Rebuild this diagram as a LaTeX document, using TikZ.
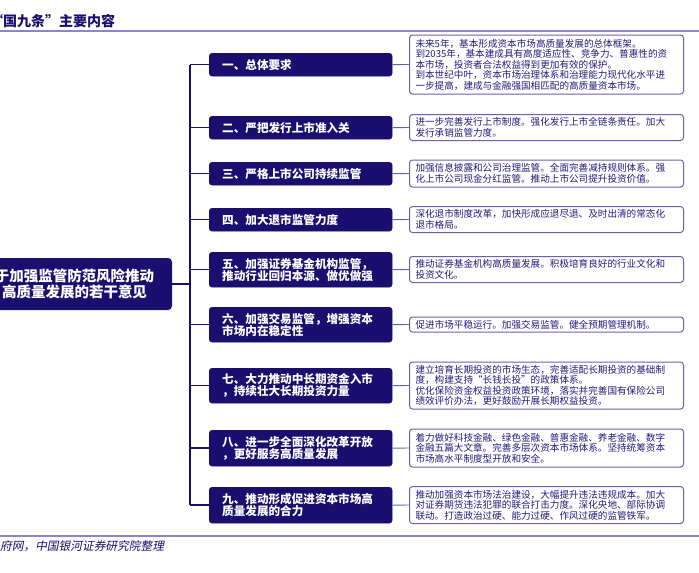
\documentclass[tikz,border=0pt]{standalone}
\usepackage{fontspec}
\setmainfont{Noto Sans CJK SC}
\newfontfamily\srcfont{Noto Sans CJK SC}[FakeSlant=0.2]
\definecolor{navy}{HTML}{1A0F6E}
\definecolor{purp}{HTML}{6A5FB5}
\definecolor{rtext}{HTML}{231C7A}
\definecolor{lav}{HTML}{8A84C8}
\begin{document}
\begin{tikzpicture}[x=1pt,y=-1pt,
  mid/.style={draw=navy, fill=navy, rounded corners=3pt, text=white,
    font=\fontsize{11.6}{12.2}\selectfont\bfseries, anchor=north west,
    text width=157pt, inner xsep=13pt, inner ysep=0pt, align=left},
  rbox/.style={draw=purp, line width=1pt, fill=white, rounded corners=3pt, text=rtext,
    font=\fontsize{9.6}{10.5}\selectfont, anchor=west,
    text width=262pt, inner xsep=6pt, inner ysep=0pt, align=left},
  root/.style={fill=navy, rounded corners=4pt, text=white,
    font=\fontsize{14.5}{16}\selectfont\bfseries, align=center,
    minimum width=195pt, minimum height=52pt, inner sep=0pt},
  tree/.style={draw=navy, line width=1.5pt},
  rconn/.style={draw=purp, line width=0.9pt},
  rule/.style={draw=lav, line width=1.5pt}
]
\fill[white] (0,0) rectangle (699,573);
\useasboundingbox (0,0) rectangle (699,573);

% header
\node[anchor=west, inner sep=0pt, font=\fontsize{14}{14}\selectfont\bfseries, text=navy] (hdr) at (-11,21.5) {“国九条”主要内容};
\draw[rule] (0,31) -- (699,31);

% root
\node[root] (L) at (74.5,284) {于加强监管防范风险推动\\高质量发展的若干意见};

% middle boxes
\node[mid, minimum height=23pt] (m1) at (209,53) {一、总体要求};
\node[mid, minimum height=23pt] (m2) at (209,116) {二、严把发行上市准入关};
\node[mid, minimum height=23pt] (m3) at (209,162) {三、严格上市公司持续监管};
\node[mid, minimum height=23pt] (m4) at (209,208) {四、加大退市监管力度};
\node[mid, minimum height=35pt] (m5) at (209,252) {五、加强证券基金机构监管，\\推动行业回归本源、做优做强};
\node[mid, minimum height=35pt] (m6) at (209,307) {六、加强交易监管，增强资本\\市场内在稳定性};
\node[mid, minimum height=35pt] (m7) at (209,368) {七、大力推动中长期资金入市\\，持续壮大长期投资力量};
\node[mid, minimum height=36pt] (m8) at (209,430) {八、进一步全面深化改革开放\\，更好服务高质量发展};
\node[mid, minimum height=36pt] (m9) at (209,487) {九、推动形成促进资本市场高\\质量发展的合力};

% right boxes
\node[rbox, minimum height=59pt] (r1) at (409,64.5) {未来5年，基本形成资本市场高质量发展的总体框架。\\到2035年，基本建成具有高度适应性、竞争力、普惠性的资\\本市场，投资者合法权益得到更加有效的保护。\\到本世纪中叶，资本市场治理体系和治理能力现代化水平进\\一步提高，建成与金融强国相匹配的高质量资本市场。};
\node[rbox, minimum height=26pt] (r2) at (409,127.5) {进一步完善发行上市制度。强化发行上市全链条责任。加大\\发行承销监管力度。};
\node[rbox, minimum height=27pt] (r3) at (409,173.5) {加强信息披露和公司治理监管。全面完善减持规则体系。强\\化上市公司现金分红监管。推动上市公司提升投资价值。};
\node[rbox, minimum height=26pt] (r4) at (409,219.5) {深化退市制度改革，加快形成应退尽退、及时出清的常态化\\退市格局。};
\node[rbox, minimum height=26pt] (r5) at (409,269.5) {推动证券基金机构高质量发展。积极培育良好的行业文化和\\投资文化。};
\node[rbox, minimum height=15pt] (r6) at (409,324.5) {促进市场平稳运行。加强交易监管。健全预期管理机制。};
\node[rbox, minimum height=47pt] (r7) at (409,385.5) {建立培育长期投资的市场生态，完善适配长期投资的基础制\\度，构建支持“长钱长投”的政策体系。\\优化保险资金权益投资政策环境，落实并完善国有保险公司\\绩效评价办法，更好鼓励开展长期权益投资。};
\node[rbox, minimum height=38pt] (r8) at (409,448) {着力做好科技金融、绿色金融、普惠金融、养老金融、数字\\金融五篇大文章。完善多层次资本市场体系。坚持统筹资本\\市场高水平制度型开放和安全。};
\node[rbox, minimum height=37pt] (r9) at (409,505) {推动加强资本市场法治建设，大幅提升违法违规成本。加大\\对证券期货违法犯罪的联合打击力度。深化央地、部际协调\\联动。打造政治过硬、能力过硬、作风过硬的监管铁军。};

% tree
\coordinate (tT) at (190,64.5);
\coordinate (tB) at (190,505);
\draw[tree] (tT) -- (tB);
\draw[tree] (L.east) -- (L.east -| tT);
\foreach \i in {1,...,9} {
  \draw[tree] (m\i.west) -- (m\i.west -| tT);
  \draw[rconn] (m\i.east) -- (r\i.west);
}

% footer
\draw[rule] (0,536) -- (699,536);
\node[anchor=west, inner sep=0pt, font=\srcfont\fontsize{11.7}{12}\selectfont, text=navy] (src) at (0,546) {府网，中国银河证券研究院整理};
\end{tikzpicture}
\end{document}
